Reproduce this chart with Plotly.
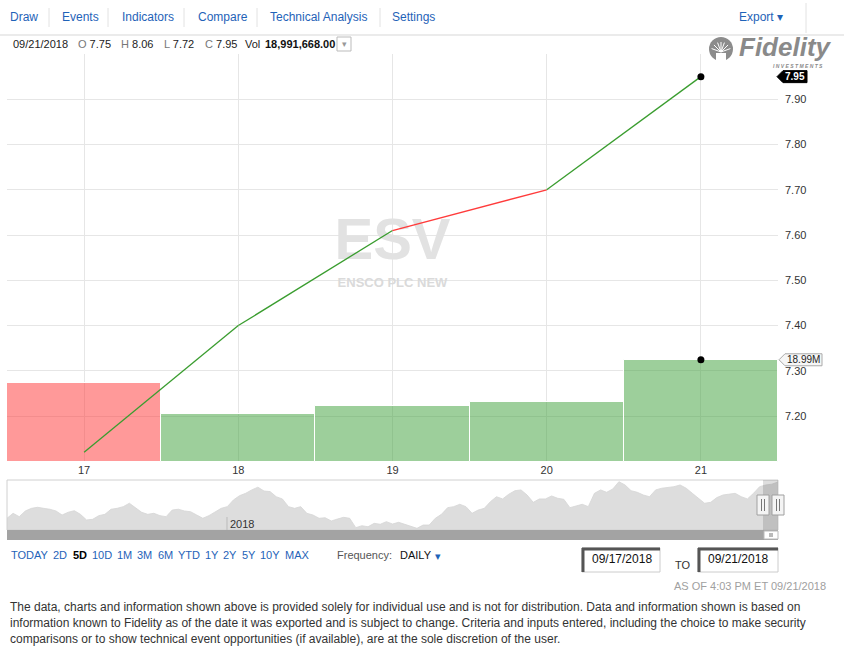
import numpy as np
import pandas as pd
import plotly.graph_objects as go

# ---- data ----
days = [17, 18, 19, 20, 21]
close = [7.12, 7.40, 7.61, 7.70, 7.95]
seg_up = [True, True, False, True]          # colour of each line segment
volume = [14_590_000, 8_910_000, 10_390_000, 11_140_000, 18_991_668]
vol_up = [False, True, True, True, True]

y_tick_vals = [7.20, 7.30, 7.40, 7.50, 7.60, 7.70, 7.80, 7.90, 8.00]
y_tick_text = ["7.20", "7.30", "7.40", "7.50", "7.60", "7.70", "7.80", "7.90", ""]

# navigator (one year of closes)
nav_close = [
    5.17, 5.55, 5.29, 5.73, 5.93, 6.01, 5.93, 5.86, 5.73, 5.42,
    5.63, 5.75, 5.47, 5.04, 5.09, 5.37, 5.47, 5.86, 5.93, 6.06,
    6.32, 5.98, 5.63, 5.47, 5.55, 5.37, 5.29, 5.80, 5.86, 5.73,
    5.67, 5.42, 5.17, 5.37, 5.67, 5.93, 6.06, 6.57, 6.90, 7.08,
    7.34, 7.55, 7.26, 7.21, 6.82, 6.65, 6.06, 5.93, 6.06, 5.55,
    5.42, 5.17, 5.21, 4.96, 5.11, 5.24, 5.17, 4.45, 4.60, 4.52,
    4.78, 4.71, 4.91, 4.73, 4.86, 4.71, 4.52, 4.40, 4.65,
    4.65, 5.17, 5.47, 5.98, 6.06, 6.24, 6.06, 5.55, 5.80, 5.93,
    6.44, 6.82, 6.65, 7.01, 7.28, 7.34, 6.95, 6.39, 6.65, 6.65,
    6.88, 6.70, 6.62, 5.98, 6.11, 6.24, 6.06, 7.08, 7.34, 7.16,
    7.41, 7.97, 7.72, 7.28, 7.16, 6.95, 6.82, 7.34, 7.47, 7.51,
    7.59, 7.72, 7.47, 7.08, 6.70, 6.32, 6.39, 6.75, 6.95, 7.01,
    7.08, 6.82, 6.65, 7.08, 7.59, 7.72, 7.78, 7.95,
]
nav_dates = pd.date_range("2017-09-18", "2018-09-21", periods=len(nav_close))

W, H = 844, 649
FONT = "Liberation Sans"
BLUE = "#1f63b8"
GREEN = "#3a9d2f"
RED = "#ff3b3b"


def px(x):
    return x / W


def py(y):
    return 1 - y / H


fig = go.Figure()

# watermark sits under everything on the (hidden) base axes
fig.add_trace(go.Scatter(x=[(days[0] + days[-1]) / 2] * 2, y=[0.532, 0.438], mode="text",
                         text=["<b>ESV</b>", "<b>ENSCO PLC NEW</b>"],
                         textfont=dict(family=FONT, size=[58, 13], color=["#e2e2e2", "#dadada"]),
                         hoverinfo="skip", showlegend=False, xaxis="x", yaxis="y"))

# volume
fig.add_trace(go.Bar(x=days, y=volume, width=1.0,
                     marker=dict(color=["rgba(60,160,55,0.5)" if u else "rgba(255,51,51,0.5)" for u in vol_up],
                                 line=dict(color="white", width=1)),
                     showlegend=False, xaxis="x", yaxis="y2"))
fig.add_trace(go.Scatter(x=[days[-1]], y=[volume[-1]], mode="markers",
                         marker=dict(color="black", size=7), showlegend=False, xaxis="x", yaxis="y2"))

# price, segment by segment
for i in range(len(days) - 1):
    fig.add_trace(go.Scatter(x=days[i:i + 2], y=close[i:i + 2], mode="lines",
                             line=dict(color=GREEN if seg_up[i] else RED, width=1.3),
                             showlegend=False, xaxis="x", yaxis="y3"))
fig.add_trace(go.Scatter(x=[days[-1]], y=[close[-1]], mode="markers",
                         marker=dict(color="black", size=7), showlegend=False, xaxis="x", yaxis="y3"))

# navigator
fig.add_trace(go.Scatter(x=nav_dates, y=nav_close, mode="lines", fill="tozeroy",
                         line=dict(color="#d6d6d6", width=0.8), fillcolor="#dddddd",
                         showlegend=False, xaxis="x4", yaxis="y4"))

main_dom_x = [px(7), px(778)]
main_dom_y = [py(462), py(54)]

fig.update_layout(
    width=W, height=H, margin=dict(l=0, r=0, t=0, b=0),
    paper_bgcolor="white", plot_bgcolor="white",
    font=dict(family=FONT, size=11, color="#333333"),
    bargap=0,
    xaxis=dict(domain=main_dom_x, range=[days[0] - 0.5, days[-1] + 0.5], tickvals=days,
               ticktext=[str(d) for d in days], showgrid=True, gridcolor="#e6e6e6", gridwidth=1,
               zeroline=False, showline=False, ticks="", tickfont=dict(size=11, color="#333"),
               fixedrange=True),
    yaxis=dict(domain=main_dom_y, range=[0, 1], visible=False, fixedrange=True),
    yaxis2=dict(overlaying="y", range=[0, 75.8e6], visible=False, fixedrange=True),
    yaxis3=dict(overlaying="y", side="right", range=[7.0985, 8.0], tickvals=y_tick_vals,
                ticktext=y_tick_text, showgrid=True, gridcolor="#e6e6e6", gridwidth=1,
                zeroline=False, showline=False, ticks="", ticklabelstandoff=6,
                tickfont=dict(size=11, color="#333"), fixedrange=True),
    xaxis4=dict(domain=main_dom_x, anchor="y4", range=[nav_dates[0], nav_dates[-1]],
                showticklabels=False, showgrid=False, zeroline=False, ticks="", fixedrange=True),
    yaxis4=dict(domain=[py(530), py(480)], anchor="x4", range=[4.27, 8.10], visible=False,
                fixedrange=True),
)

shapes = []
ann = []


def text(x, y, s, size=11, color="#333333", anchor="left", bold=False, family=FONT):
    ann.append(dict(x=px(x), y=py(y), xref="paper", yref="paper", showarrow=False,
                    text=f"<b>{s}</b>" if bold else s, xanchor=anchor, yanchor="middle",
                    font=dict(family=family, size=size, color=color)))


def hline(x0, x1, y, color="#dddddd", width=1):
    shapes.append(dict(type="line", xref="paper", yref="paper", x0=px(x0), x1=px(x1),
                       y0=py(y), y1=py(y), line=dict(color=color, width=width)))


def vline(x, y0, y1, color="#dddddd", width=1):
    shapes.append(dict(type="line", xref="paper", yref="paper", x0=px(x), x1=px(x),
                       y0=py(y0), y1=py(y1), line=dict(color=color, width=width)))


def rect(x0, y0, x1, y1, fill, line="rgba(0,0,0,0)", width=1):
    shapes.append(dict(type="rect", xref="paper", yref="paper", x0=px(x0), x1=px(x1),
                       y0=py(y1), y1=py(y0), fillcolor=fill, line=dict(color=line, width=width)))


# ---- toolbar ----
for label, x in [("Draw", 8), ("Events", 60), ("Indicators", 120), ("Compare", 196),
                 ("Technical Analysis", 268), ("Settings", 390)]:
    text(x, 17, label, size=12, color=BLUE)
for x in [49, 108, 184, 257, 380]:
    vline(x, 8, 27, color="#e2e2e2")
text(737, 17, "Export ▾", size=12, color=BLUE)
vline(806, 3, 33, color="#e2e2e2")
hline(0, 844, 35, color="#e4e4e4", width=1.5)

# ---- OHLC header ----
text(11, 44, "09/21/2018", size=11, color="#222")
for label, val, x in [("O", "7.75", 76), ("H", "8.06", 119), ("L", "7.72", 162), ("C", "7.95", 203)]:
    text(x, 44, f"<span style='color:#777'>{label}</span> {val}", size=11, color="#222")
text(243, 44, "Vol", size=11, color="#222")
text(263, 44, "18,991,668.00", size=11, color="#111", bold=True)
rect(337, 37, 351, 51, "white", line="#bbbbbb")
text(344, 44, "▾", size=9, color="#999", anchor="center")

# ---- Fidelity logo ----
shapes.append(dict(type="circle", xref="paper", yref="paper", x0=px(709), x1=px(733),
                   y0=py(61), y1=py(37), fillcolor="#8c8c8c", line=dict(width=0)))
for ang in [20, 45, 70, 90, 110, 135, 160]:
    a = np.radians(ang)
    shapes.append(dict(type="line", xref="paper", yref="paper",
                       x0=px(721), y0=py(52), x1=px(721 + 10 * np.cos(a)), y1=py(52 - 10 * np.sin(a)),
                       line=dict(color="white", width=1)))
shapes.append(dict(type="rect", xref="paper", yref="paper", x0=px(716), x1=px(726),
                   y0=py(61), y1=py(53), fillcolor="white", line=dict(width=0)))
text(785, 47, "<i>Fidelity</i>", size=26, color="#8a8a8a", anchor="center", bold=True)
text(798, 65.5, "<i>I N V E S T M E N T S</i>", size=5, color="#8a8a8a", anchor="center", bold=True)

# ---- value flags on the right ----
y3_pix = lambda v: 54 + (8.0 - v) / (8.0 - 7.0985) * 408
fy = y3_pix(close[-1])
shapes.append(dict(type="path", xref="paper", yref="paper",
                   path=f"M {px(777)},{py(fy)} L {px(783)},{py(fy - 6)} L {px(807)},{py(fy - 6)} "
                        f"L {px(807)},{py(fy + 6)} L {px(783)},{py(fy + 6)} Z",
                   fillcolor="black", line=dict(color="black", width=1)))
text(795, fy, f"{close[-1]:.2f}", size=10, color="white", anchor="center", bold=True)

vy = 462 - volume[-1] / 75.8e6 * 408
shapes.append(dict(type="path", xref="paper", yref="paper",
                   path=f"M {px(779)},{py(vy)} L {px(785)},{py(vy - 6)} L {px(822)},{py(vy - 6)} "
                        f"L {px(822)},{py(vy + 6)} L {px(785)},{py(vy + 6)} Z",
                   fillcolor="#f6f6f6", line=dict(color="#aaaaaa", width=1)))
text(803.5, vy, f"{volume[-1] / 1e6:.2f}M", size=10, color="#222", anchor="center")

# ---- navigator decorations ----
rect(7, 480, 778, 530, "rgba(0,0,0,0)", line="#d0d0d0")
rect(7, 530, 778, 540, "#a3a3a3")
rect(763, 480, 778, 530, "rgba(0,0,0,0.13)")
shapes.append(dict(type="line", xref="x4", yref="paper", x0="2018-01-01", x1="2018-01-01",
                   y0=py(530), y1=py(517), line=dict(color="#bbbbbb", width=1)))
ann.append(dict(x="2018-01-01", y=py(523.5), xref="x4", yref="paper", showarrow=False,
                text="2018", xanchor="left", yanchor="middle", xshift=1,
                font=dict(family=FONT, size=11, color="#333")))
for cx in [763, 778]:
    rect(cx - 6, 495, cx + 6, 515, "#f4f4f4", line="#a0a0a0")
    vline(cx - 1.5, 499, 511, color="#777")
    vline(cx + 1.5, 499, 511, color="#777")
rect(764, 531, 778, 539, "white", line="#bbbbbb")
vline(770, 533, 537, color="#777")
vline(772, 533, 537, color="#777")

# ---- range buttons ----
for label, x in [("TODAY", 9), ("2D", 51), ("5D", 71), ("10D", 90), ("1M", 115), ("3M", 135),
                 ("6M", 156), ("YTD", 176), ("1Y", 203), ("2Y", 221), ("5Y", 240), ("10Y", 258),
                 ("MAX", 283)]:
    if label == "5D":
        text(x, 555, label, size=11, color="#000", bold=True)
    else:
        text(x, 555, label, size=11, color=BLUE)
text(335, 555, "Frequency:", size=11, color="#555")
text(398, 555, "DAILY", size=11, color="#111")
text(433, 556, "▾", size=11, color=BLUE)

# date boxes
for x0, x1, label in [(582, 660, "09/17/2018"), (698, 778, "09/21/2018")]:
    rect(x0, 548, x1, 572, "white", line="#cccccc")
    hline(x0, x1, 549, color="#555555", width=3)
    vline(x0 + 1, 548, 572, color="#555555", width=3)
    text(x0 + 8, 559, label, size=12, color="#111")
text(673, 565, "TO", size=11, color="#333")

text(828, 586, "AS OF 4:03 PM ET 09/21/2018", size=11, color="#a0a0a0", anchor="right")

# ---- disclaimer ----
disclaimer = [
    "The data, charts and information shown above is provided solely for individual use and is not for distribution. Data and information shown is based on",
    "information known to Fidelity as of the date it was exported and is subject to change. Criteria and inputs entered, including the choice to make security",
    "comparisons or to show technical event opportunities (if available), are at the sole discretion of the user.",
]
for i, line in enumerate(disclaimer):
    text(8, 607 + 16 * i, line, size=12, color="#333")

fig.update_layout(shapes=shapes, annotations=ann)
fig.write_html("out.html", config={"displayModeBar": False},
               post_script="document.body.style.margin='0';document.body.style.overflow='hidden';")
